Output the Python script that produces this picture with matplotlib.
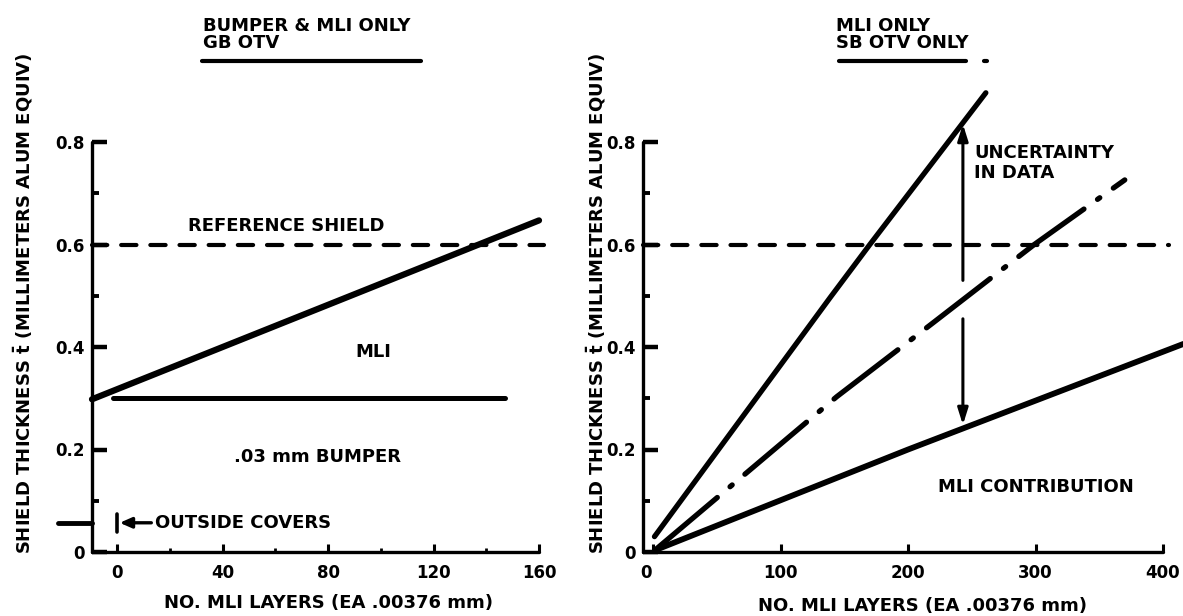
import matplotlib
matplotlib.use('Agg')
import matplotlib.pyplot as plt
from matplotlib.lines import Line2D
from matplotlib.transforms import ScaledTranslation

W, H = 1183, 616
plt.rcParams['font.family'] = ['DejaVu Sans']
plt.rcParams['font.weight'] = 'bold'
plt.rcParams['mathtext.fontset'] = 'dejavusans'
plt.rcParams['lines.scale_dashes'] = False

# ---------------- data ----------------
# left panel: bumper & MLI only, GB OTV
left_xticks = [0, 40, 80, 120, 160]
left_xticklabels = ['0', '40', '80', '120', '160']
left_xminor = [20, 60, 100, 140]
yticks = [0, 0.2, 0.4, 0.6, 0.8]
yticklabels = ['0', '0.2', '0.4', '0.6', '0.8']
yminor = [0.1, 0.3, 0.5, 0.7]
reference_shield = 0.6
bumper_layers = [-1.5, 147]
bumper_thickness = [0.30, 0.30]
bumper_mli_layers = [-9.5, 160]
bumper_mli_thickness = [0.298, 0.647]
outside_cover = 0.057

# right panel: MLI only, SB OTV only
right_xticks = [0, 100, 200, 300, 400]
right_xticklabels = ['0', '100', '200', '300', '400']
mli_upper_layers = [1, 139, 170, 261]
mli_upper_thickness = [0.03, 0.497, 0.60, 0.896]
mli_mid_layers = [2, 144, 220, 299, 370]
mli_mid_thickness = [0.005, 0.303, 0.448, 0.60, 0.726]
mli_lower_layers = [3, 200, 416]
mli_lower_thickness = [0.005, 0.20, 0.406]
uncertainty_layers = 243
uncertainty_up = [0.53, 0.835]
uncertainty_down = [0.455, 0.248]

ylabel = 'SHIELD THICKNESS $\\bar{\\mathbf{t}}$ (MILLIMETERS ALUM EQUIV)'
xlabel = 'NO. MLI LAYERS (EA .00376 mm)'

FS = 13     # annotation font size
TFS = 12    # tick label font size


def fx(x):
    return x / W


def fy(y):
    return 1 - y / H


fig = plt.figure(figsize=(W / 100, H / 100), dpi=100)
fig.patch.set_facecolor('white')

ax1 = fig.add_axes([fx(92), fy(552), (539 - 92) / W, (552 - 142) / H])
ax2 = fig.add_axes([fx(643), fy(552), (1163 - 643) / W, (552 - 142) / H])


def style(ax, xlim, xticks, xlabels, xminor):
    ax.set_xlim(*xlim)
    ax.set_ylim(0, 0.8)
    for s in ['top', 'right']:
        ax.spines[s].set_visible(False)
    for s in ['left', 'bottom']:
        ax.spines[s].set_linewidth(2.4)
        ax.spines[s].set_capstyle('round')
    ax.set_xticks(xticks)
    ax.set_xticklabels(xlabels)
    ax.set_xticks(xminor, minor=True)
    ax.set_yticks(yticks)
    ax.set_yticklabels(yticklabels)
    ax.set_yticks(yminor, minor=True)
    ax.tick_params(axis='both', which='both', direction='in', labelsize=TFS)
    ax.tick_params(axis='y', which='major', length=11, width=3.2, pad=5)
    ax.tick_params(axis='y', which='minor', length=5, width=2.8)
    ax.tick_params(axis='x', which='major', length=6, width=2.2, pad=9)
    ax.tick_params(axis='x', which='minor', length=3, width=2.0)
    for lab in ax.get_xticklabels() + ax.get_yticklabels():
        lab.set_fontweight('bold')
    ax.patch.set_alpha(0)


style(ax1, (-9.5, 160), left_xticks, left_xticklabels, left_xminor)
style(ax2, (-8, 400), right_xticks, right_xticklabels, [])

# the "0" of the right panel sits just left of its tick, under the corner
lab0 = ax2.get_xticklabels()[0]
lab0.set_transform(lab0.get_transform() +
                   ScaledTranslation(-7 / 100, 0, fig.dpi_scale_trans))

# ---------- left panel ----------
ax1.plot([-9.5, 162], [reference_shield, reference_shield], color='black', lw=3,
         dashes=(11, 10), dash_capstyle='round', clip_on=False)
ax1.plot(bumper_mli_layers, bumper_mli_thickness, color='black', lw=4.5,
         solid_capstyle='round', clip_on=False)
ax1.plot(bumper_layers, bumper_thickness, color='black', lw=3.6,
         solid_capstyle='round')
ax1.plot([-22.5, -9.5], [outside_cover, outside_cover], color='black', lw=3.5,
         solid_capstyle='round', clip_on=False)
ax1.plot([0, 0], [0.039, 0.074], color='black', lw=2.6, solid_capstyle='round')
ax1.annotate('', xy=(1.0, outside_cover), xytext=(13, outside_cover),
             arrowprops=dict(arrowstyle='-|>,head_length=0.5,head_width=0.22',
                             lw=2.4, color='black', mutation_scale=14,
                             shrinkA=0, shrinkB=0))
ax1.text(14.5, outside_cover, 'OUTSIDE COVERS', fontsize=FS, fontweight='bold',
         ha='left', va='center')
ax1.text(64, 0.636, 'REFERENCE SHIELD', fontsize=FS, fontweight='bold',
         ha='center', va='center')
ax1.text(97, 0.39, 'MLI', fontsize=FS, fontweight='bold', ha='center', va='center')
ax1.text(76, 0.186, '.03 mm BUMPER', fontsize=FS, fontweight='bold',
         ha='center', va='center')

# ---------- right panel ----------
ax2.plot([-8, 405], [reference_shield, reference_shield], color='black', lw=3,
         dashes=(11, 10), dash_capstyle='round', clip_on=False)
ax2.plot(mli_upper_layers, mli_upper_thickness, color='black', lw=3.8,
         solid_capstyle='round', clip_on=False)
ax2.plot(mli_mid_layers, mli_mid_thickness, color='black', lw=3.8,
         dashes=(58, 12, 2, 12), dash_capstyle='round', clip_on=False)
ax2.plot(mli_lower_layers, mli_lower_thickness, color='black', lw=4.2,
         solid_capstyle='round', clip_on=False)
ax2.annotate('', xy=(uncertainty_layers, uncertainty_up[1]),
             xytext=(uncertainty_layers, uncertainty_up[0]),
             arrowprops=dict(arrowstyle='-|>,head_length=0.7,head_width=0.22',
                             lw=2.2, color='black', mutation_scale=14,
                             shrinkA=0, shrinkB=0), annotation_clip=False)
ax2.annotate('', xy=(uncertainty_layers, uncertainty_down[1]),
             xytext=(uncertainty_layers, uncertainty_down[0]),
             arrowprops=dict(arrowstyle='-|>,head_length=0.7,head_width=0.22',
                             lw=2.2, color='black', mutation_scale=14,
                             shrinkA=0, shrinkB=0))
ax2.text(252, 0.778, 'UNCERTAINTY', fontsize=FS, fontweight='bold',
         ha='left', va='center')
ax2.text(252, 0.740, 'IN DATA', fontsize=FS, fontweight='bold',
         ha='left', va='center')
ax2.text(300, 0.126, 'MLI CONTRIBUTION', fontsize=FS, fontweight='bold',
         ha='center', va='center')

# ---------- titles, axis labels ----------
fig.text(fx(203), fy(26), 'BUMPER & MLI ONLY', fontsize=FS, fontweight='bold',
         ha='left', va='center')
fig.text(fx(203), fy(43.5), 'GB OTV', fontsize=FS, fontweight='bold',
         ha='left', va='center')
fig.add_artist(Line2D([fx(202), fx(421)], [fy(61), fy(61)], color='black', lw=3,
                      solid_capstyle='round'))
fig.text(fx(836), fy(26), 'MLI ONLY', fontsize=FS, fontweight='bold',
         ha='left', va='center')
fig.text(fx(836), fy(43.5), 'SB OTV ONLY', fontsize=FS, fontweight='bold',
         ha='left', va='center')
fig.add_artist(Line2D([fx(839), fx(966)], [fy(61), fy(61)], color='black', lw=3,
                      solid_capstyle='round'))
fig.add_artist(Line2D([fx(984), fx(987)], [fy(61), fy(61)], color='black', lw=3,
                      solid_capstyle='round'))

fig.text(fx(23), fy(303), ylabel, fontsize=FS, fontweight='bold', rotation=90,
         ha='center', va='center')
fig.text(fx(596), fy(303), ylabel, fontsize=FS, fontweight='bold', rotation=90,
         ha='center', va='center')
fig.text(fx(328), fy(603), xlabel, fontsize=FS, fontweight='bold',
         ha='center', va='center')
fig.text(fx(922), fy(606), xlabel, fontsize=FS, fontweight='bold',
         ha='center', va='center')

fig.savefig('out.png', dpi=100, facecolor='white')
